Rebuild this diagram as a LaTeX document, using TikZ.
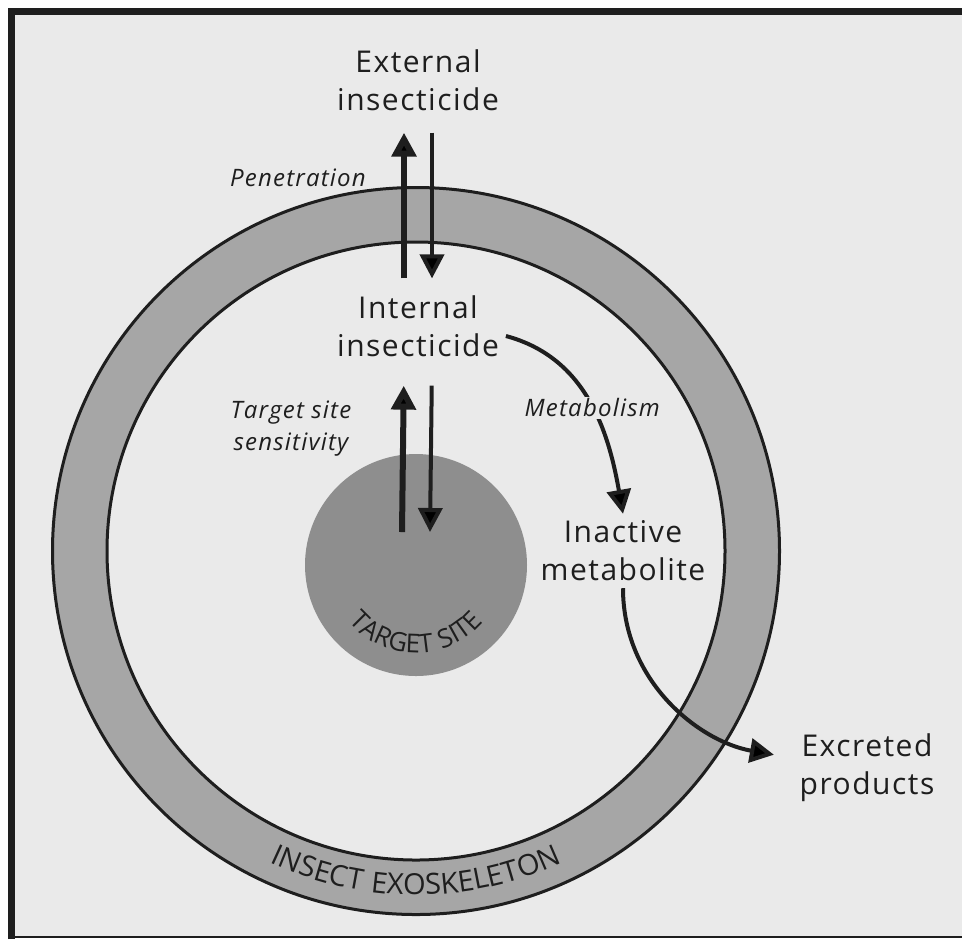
\documentclass[tikz,border=0pt]{standalone}
\usepackage{fontspec}
\setmainfont{Open Sans}[LetterSpace=5]
\usetikzlibrary{arrows.meta,positioning,decorations.text}

\definecolor{paper}{HTML}{EAEAEA}
\definecolor{cuticle}{HTML}{A6A6A6}
\definecolor{site}{HTML}{8E8E8E}
\definecolor{ink}{HTML}{1E1E1E}

\tikzset{
    %Define standard arrow tip
    >={Triangle[length=12pt,width=12pt]},
    %Define style for the compartment labels
    plain/.style={
           align=center,
           text=ink,
           font=\fontsize{15}{19}\selectfont},
    % Define style for the process labels
    process/.style={
           align=center,
           text=ink,
           font=\itshape\fontsize{12}{16}\selectfont},
    % Define arrow styles
    pil/.style={
           ->,
           draw=ink,
           line width=2pt},
    fatpil/.style={
           pil,
           line width=3pt},
    % Define style for curved ring text
    bent/.style={
           decorate,
           decoration={
               text along path,
               text align=center,
               text color=ink,
               text={#1}}}
}

\begin{document}
\begin{tikzpicture}[x=0.5pt, y=-0.5pt]
        % canvas and frame
        \useasboundingbox (0,0) rectangle (962,939);
        \fill[white] (0,0) rectangle (962,939);
        \fill[paper] (12,11) rectangle (962,937);
        \draw[ink, line width=3.5pt] (11.5,939) -- (11.5,11) -- (962,11);
        \draw[ink, line width=1pt] (12,937) -- (962,937);

        % exoskeleton ring
        \coordinate (centre) at (416,551);
        \draw[ink, line width=1.5pt, fill=cuticle] (centre) circle (181.75pt);
        \draw[ink, line width=1.5pt, fill=paper] (centre) circle (154.5pt);
        \path[bent={|\fontsize{14.5}{16}\selectfont|INSECT EXOSKELETON}]
        (centre) ++(215:172pt) arc[start angle=215, end angle=325, radius=172pt];

        %nodes

        % target site node
        \node[circle, fill=site, minimum size=111pt, inner sep=0pt]
        (target) at (416,565)
        {}
        ;
        \path[bent={|\fontsize{13}{15}\selectfont|TARGET SITE}]
        (target.center) ++(190:44pt) arc[start angle=190, end angle=350, radius=44pt];

        % external insecticide node
        \node[plain]
        (external) at (418,80)
        {External\\insecticide}
        ;

        % internal insecticide node
        \node[plain]
        (internal) at (418,326)
        {Internal\\insecticide}
        ;

        % inactive metabolite node
        \node[plain]
        (inactive) at (623,551)
        {Inactive\\metabolite}
        ;

        % excreted products node
        \node[plain]
        (excreted) at (867,768)
        {Excreted\\products}
        ;

        % penetration label
        \node[process]
        (penetration) at (298,178)
        {Penetration}
        ;

        % target site sensitivity label
        \node[process]
        (sensitivity) at (291,429)
        {Target site\\sensitivity}
        ;

        % penetration in and out
        \draw[fatpil, shorten <=5pt, shorten >=7.5pt]
        ([xshift=-7pt]internal.north) -- ([xshift=-7pt]external.south)
        ;
        \draw[pil, shorten <=7.5pt, shorten >=5pt]
        ([xshift=7pt]external.south) -- ([xshift=7pt]internal.north)
        ;

        % internal insecticide and target site
        \draw[fatpil, shorten >=11pt]
        ([xshift=-7pt, yshift=16.5pt]target.center) -- ([xshift=-7pt]internal.south)
        ;
        \draw[pil, shorten <=11pt]
        ([xshift=7pt]internal.south) -- ([xshift=7pt, yshift=16.5pt]target.center)
        ;

        % metabolism of internal insecticide
        \draw[pil]
        ([yshift=-5pt]internal.east) to[out=-15, in=100] node[process, pos=0.53, fill=paper, inner sep=1pt]
            (metabolism) {Metabolism}
        (inactive.north)
        ;

        % excretion of inactive metabolite
        \draw[pil, shorten >=9.5pt]
        (inactive.south) to[out=-90, in=170]
        ([yshift=5pt]excreted.west)
        ;

    \end{tikzpicture}
\end{document}
